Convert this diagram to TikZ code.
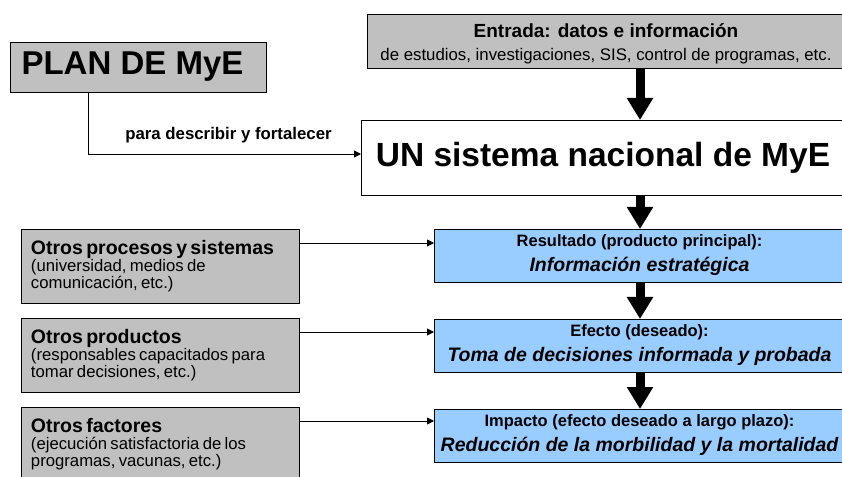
\documentclass[tikz,border=0pt]{standalone}
\usepackage{fontspec}
\setmainfont{Liberation Sans}
\usetikzlibrary{arrows.meta}
\definecolor{boxgrey}{HTML}{C0C0C0}
\definecolor{boxblue}{HTML}{99CCFF}
\newcommand\fsz[2]{\fontsize{#1bp}{#2bp}\selectfont}
\begin{document}
\begin{tikzpicture}[x=1bp,y=-1bp,
  box/.style={draw=black, line width=0.9bp, inner sep=0pt, outer sep=0pt},
  greybox/.style={box, fill=boxgrey},
  bluebox/.style={box, fill=boxblue, minimum width=411bp, minimum height=53bp, align=center, font=\fsz{16.5}{25}},
  sidebox/.style={greybox, minimum width=278bp, minimum height=74bp, text width=258bp, align=left},
  bigarrow/.style={line width=9bp, -{Triangle[length=22bp,width=25bp]}},
  thinarrow/.style={line width=0.9bp, -{Triangle[length=7bp,width=7bp]}},
]
\useasboundingbox (0,0) rectangle (842,477);

% top part
\node[greybox, minimum width=256bp, minimum height=50bp] (plan) at (138,67)
  {\fsz{33}{38}\bfseries PLAN DE MyE\hspace*{11bp}};
\node[greybox, minimum width=478bp, minimum height=54bp, align=center, font=\fsz{16.8}{23}] (entrada) at (606,41)
  {\rule{0pt}{20bp}\fsz{19}{23}\bfseries Entrada: datos e información\\\fsz{16.8}{23}\mdseries de estudios, investigaciones, SIS, control de programas, etc.};
\node[box, fill=white, minimum width=484bp, minimum height=75bp] (un) at (603,157.5)
  {\fsz{33.5}{38}\bfseries UN sistema nacional de MyE};

% result chain
\node[bluebox] (resultado) at (639.5,255.5)
  {\bfseries Resultado (producto principal):\\\fsz{19.5}{25}\bfseries\itshape Información estratégica};
\node[bluebox] (efecto) at (639.5,345.5)
  {\bfseries Efecto (deseado):\\\fsz{19.5}{25}\bfseries\itshape Toma de decisiones informada y probada};
\node[bluebox] (impacto) at (639.5,435.5)
  {\bfseries Impacto (efecto deseado a largo plazo):\\\fsz{19.5}{25}\bfseries\itshape Reducción de la morbilidad y la mortalidad};

% side boxes
\node[sidebox] (procesos) at (160,266)
  {\fsz{19.5}{19}\bfseries Otros procesos y sistemas\\\fsz{16.7}{17.5}\mdseries (universidad, medios de\\comunicación, etc.)};
\node[sidebox] (productos) at (160,355)
  {\fsz{19.5}{19}\bfseries Otros productos\\\fsz{16.7}{17.5}\mdseries (responsables capacitados para\\tomar decisiones, etc.)};
\node[sidebox] (factores) at (160,444)
  {\fsz{19.5}{19}\bfseries Otros factores\\\fsz{16.7}{17.5}\mdseries (ejecución satisfactoria de los\\programas, vacunas, etc.)};

% coordinates
\coordinate (spine) at (640,0);
\coordinate (pk) at (88,154);
\coordinate (l1) at (0,243);
\coordinate (l2) at (0,332);
\coordinate (l3) at (0,421);

% big arrows
\draw[bigarrow] (entrada.south -| spine) -- (un.north -| spine);
\draw[bigarrow] (un.south -| spine) -- (resultado.north -| spine);
\draw[bigarrow] (resultado.south -| spine) -- (efecto.north -| spine);
\draw[bigarrow] (efecto.south -| spine) -- (impacto.north -| spine);

% thin connectors
\draw[thinarrow] (plan.south -| pk) |- (un.west |- pk);
\node[font=\fsz{16.8}{18}\bfseries, anchor=base] (lbl) at (228.5,140) {para describir y fortalecer};
\draw[thinarrow] (procesos.east |- l1) -- (resultado.west |- l1);
\draw[thinarrow] (productos.east |- l2) -- (efecto.west |- l2);
\draw[thinarrow] (factores.east |- l3) -- (impacto.west |- l3);
\end{tikzpicture}
\end{document}
